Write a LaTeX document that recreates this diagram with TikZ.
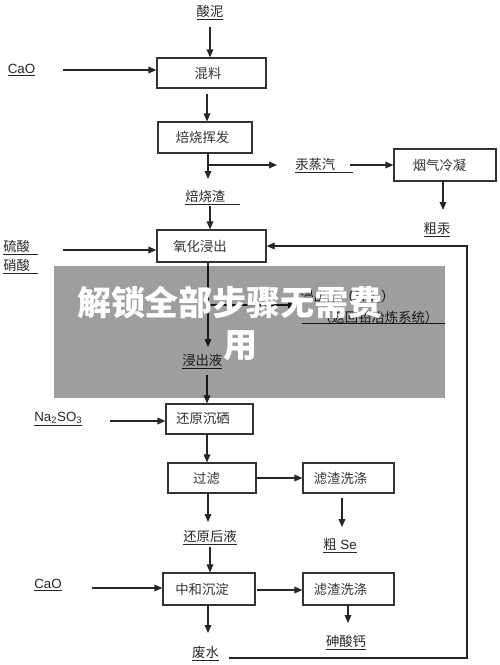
\documentclass[tikz,border=0pt]{standalone}
\usepackage{fontspec}
\setmainfont{Liberation Sans}
\newfontfamily\cjk{Noto Sans CJK SC}
\usetikzlibrary{arrows.meta,calc}
\begin{document}
\begin{tikzpicture}[x=0.75pt,y=-0.75pt,
  arr/.style={draw=black!85, line width=0.9pt, -{Triangle[length=6pt,width=5pt]}},
  ln/.style={draw=black!85, line width=0.9pt},
  box/.style={draw=black!80, line width=0.9pt, inner sep=0pt},
  bt/.style={font=\cjk\fontsize{10}{12}\selectfont, text=black!80, inner sep=0pt},
  lab/.style={font=\cjk\fontsize{10}{12}\selectfont, text=black!85, inner sep=0pt},
  latin/.style={font=\fontsize{10}{12}\selectfont, text=black!85, inner sep=0pt},
  wm/.style={font=\cjk\bfseries\fontsize{25.5}{30}\selectfont, text=white, inner sep=0pt}]
\useasboundingbox (0,0) rectangle (500,665);
\fill[white] (0,0) rectangle (500,665);

% boxes
\node[box, minimum width=81.75pt, minimum height=22.5pt] (mix) at (211.5,73) {};
\node[bt] (mixt) at (208,73) {混料};
\node[box, minimum width=70.5pt, minimum height=23.25pt] (roast) at (205,137.5) {};
\node[bt] (roastt) at (202.5,137.5) {焙烧挥发};
\node[box, minimum width=76.5pt, minimum height=24pt] (cond) at (445,165) {};
\node[bt] (condt) at (439.5,165) {烟气冷凝};
\node[box, minimum width=81.75pt, minimum height=24pt] (ox) at (211.5,246) {};
\node[bt] (oxt) at (200,246) {氧化浸出};
\node[box, minimum width=65.25pt, minimum height=22.5pt] (red) at (209.5,419) {};
\node[bt] (redt) at (203,419) {还原沉硒};
\node[box, minimum width=66pt, minimum height=22.5pt] (filt) at (212,478) {};
\node[bt] (filtt) at (206.5,478) {过滤};
\node[box, minimum width=68.25pt, minimum height=22.5pt] (wash1) at (348.5,478) {};
\node[bt] (wash1t) at (340.5,478) {滤渣洗涤};
\node[box, minimum width=69pt, minimum height=24pt] (neut) at (209,589) {};
\node[bt] (neutt) at (202,589) {中和沉淀};
\node[box, minimum width=68.25pt, minimum height=24pt] (wash2) at (348.5,589) {};
\node[bt] (wash2t) at (340.5,589) {滤渣洗涤};

% labels
\node[lab] (sn) at (210,13) {\underline{酸泥}};
\node[latin] (cao1) at (21.5,70) {\underline{CaO}};
\node[lab, anchor=west] (hgv) at (295,166) {\underline{汞蒸汽\hspace{13pt}}};
\node[lab] (hg) at (437,230) {\underline{粗汞}};
\node[lab, anchor=west] (slag) at (185,198) {\underline{焙烧渣\hspace{11pt}}};
\node[lab, anchor=west] (h2so4) at (3,248) {\underline{硫酸\hspace{6pt}}};
\node[lab, anchor=west] (hno3) at (3,267) {\underline{硝酸\hspace{6pt}}};
\node[lab, anchor=west] (res) at (300,297) {浸出渣（SiO$_2$）};
\node[lab, anchor=west] (res2) at (318,317) {（返回铅冶炼系统）};
\node[lab, anchor=west] (leach) at (182,362) {\underline{浸出液}};
\node[latin, anchor=west] (na) at (34,419) {\underline{Na\textsubscript{2}SO\textsubscript{3}}};
\node[lab] (afl) at (210,538) {\underline{还原后液}};
\node[latin] (se) at (340,546) {\underline{{\cjk 粗} Se}};
\node[latin] (cao2) at (48,585) {\underline{CaO}};
\node[lab] (caas) at (346,643) {\underline{砷酸钙}};
\node[lab] (ww) at (205.5,654) {\underline{废水}};

% connector end points
\coordinate (a1) at (210,27);
\coordinate (a2) at (63,70);
\coordinate (a3) at (207,94);
\coordinate (a4) at (208,153);
\coordinate (a4e) at (208,179);
\coordinate (br1) at (208,165);
\coordinate (br1e) at (277,165);
\coordinate (a5) at (350,165);
\coordinate (a6) at (443,181);
\coordinate (a6e) at (443,210);
\coordinate (a7) at (210,206);
\coordinate (a8) at (63,250);
\coordinate (a9) at (208,262);
\coordinate (a9e) at (208,347);
\coordinate (br2) at (208,305);
\coordinate (br2e) at (296,305);
\coordinate (a10) at (207,375);
\coordinate (a11) at (110,421);
\coordinate (a12) at (207,434);
\coordinate (a13) at (342,498);
\coordinate (a13e) at (342,527);
\coordinate (a14) at (208,493);
\coordinate (a14e) at (208,522);
\coordinate (a15) at (210,547);
\coordinate (a16) at (92,588);
\coordinate (a17) at (257,590);
\coordinate (a18) at (348,605);
\coordinate (a18e) at (348,623);
\coordinate (a19) at (208,605);
\coordinate (a19e) at (208,633);
\coordinate (r1) at (229,658);
\coordinate (r2) at (467,658);

% connectors
\draw[arr] (a1) -- (a1 |- mix.north);
\draw[arr] (a2) -- (a2 -| mix.west);
\draw[arr] (a3) -- (a3 |- roast.north);
\draw[arr] (a4) -- (a4e);
\draw[arr] (br1) -- (br1e);
\draw[arr] (a5) -- (a5 -| cond.west);
\draw[arr] (a6) -- (a6e);
\draw[arr] (a7) -- (a7 |- ox.north);
\draw[arr] (a8) -- (a8 -| ox.west);
% hidden part under the overlay
\draw[arr] (a9) -- (a9e);
\draw[arr] (br2) -- (br2e);
\draw[ln] (302,323.5) -- (445,323.5);
\draw[arr] (a10) -- (a10 |- red.north);
\draw[arr] (a11) -- (a11 -| red.west);
\draw[arr] (a12) -- (a12 |- filt.north);
\draw[arr] (filt.east) -- (wash1.west);
\draw[arr] (a13) -- (a13e);
\draw[arr] (a14) -- (a14e);
\draw[arr] (a15) -- (a15 |- neut.north);
\draw[arr] (a16) -- (a16 -| neut.west);
\draw[arr] (a17) -- (a17 -| wash2.west);
\draw[arr] (a18) -- (a18e);
\draw[arr] (a19) -- (a19e);
\draw[arr] (r1) -- (r2) |- (ox.east);

% overlay
\fill[black, opacity=0.38] (54,266) rectangle (445,398);
\node[wm] (w1) at (230,302) {解锁全部步骤无需费};
\node[wm] (w2) at (240,346) {用};
\end{tikzpicture}
\end{document}
